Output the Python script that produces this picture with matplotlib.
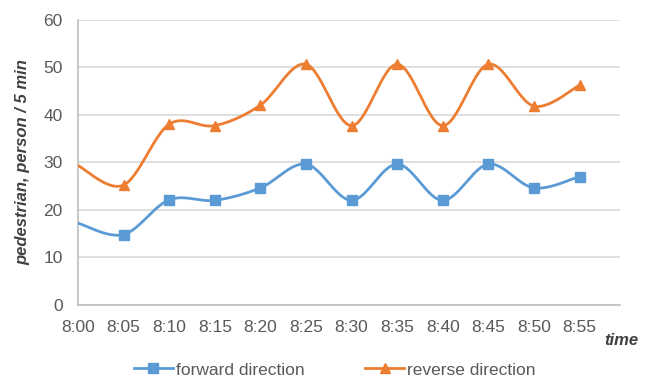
import numpy as np
import matplotlib.pyplot as plt

times = ['8:00', '8:05', '8:10', '8:15', '8:20', '8:25',
         '8:30', '8:35', '8:40', '8:45', '8:50', '8:55']
forward = [17.2, 14.8, 22.1, 22.0, 24.6, 29.6, 22.0, 29.6, 22.0, 29.6, 24.6, 27.0]
reverse = [29.3, 25.2, 38.0, 37.7, 42.0, 50.6, 37.7, 50.6, 37.7, 50.6, 41.8, 46.2]

BLUE = '#5B9BD5'
ORANGE = '#ED7D31'
GREY = '#595959'

plt.rcParams['font.family'] = ['Liberation Sans', 'DejaVu Sans']


def smooth(x, y, n=30):
    # Catmull-Rom style smoothing, similar to a spreadsheet "smoothed line"
    x = np.asarray(x, float)
    y = np.asarray(y, float)
    px = np.concatenate([[x[0]], x, [x[-1]]])
    py = np.concatenate([[y[0]], y, [y[-1]]])
    xs, ys = [], []
    t = np.linspace(0, 1, n)
    for i in range(1, len(px) - 2):
        p0, p1, p2, p3 = (np.array([px[j], py[j]]) for j in range(i - 1, i + 3))
        c1 = p1 + (p2 - p0) / 6
        c2 = p2 - (p3 - p1) / 6
        b = ((1 - t) ** 3)[:, None] * p1 + (3 * (1 - t) ** 2 * t)[:, None] * c1 \
            + (3 * (1 - t) * t ** 2)[:, None] * c2 + (t ** 3)[:, None] * p2
        xs.append(b[:, 0])
        ys.append(b[:, 1])
    return np.concatenate(xs), np.concatenate(ys)


fig = plt.figure(figsize=(6.53, 3.83), dpi=100)
ax = fig.add_axes([0.1194, 0.2037, 0.8296, 0.7453])

x = np.arange(len(times))
for vals, color, marker, label in [(forward, BLUE, 's', 'forward direction'),
                                   (reverse, ORANGE, '^', 'reverse direction')]:
    sx, sy = smooth(x, vals)
    ax.plot(sx, sy, color=color, lw=2, zorder=3)
    ax.plot(x[1:], vals[1:], linestyle='none', marker=marker, color=color,
            markersize=7, zorder=4)
    ax.plot([], [], color=color, lw=2, marker=marker, markersize=7, label=label)

ax.set_xlim(0, 11.88)
ax.set_ylim(0, 60)
ax.set_yticks(range(0, 61, 10))
ax.set_xticks(x)
ax.set_xticklabels(times)
ax.grid(axis='y', color='#D9D9D9', lw=1.2)
ax.set_axisbelow(True)
for s in ['top', 'right']:
    ax.spines[s].set_visible(False)
for s in ['left', 'bottom']:
    ax.spines[s].set_color('#BFBFBF')
    ax.spines[s].set_linewidth(1.2)
ax.tick_params(length=0, labelsize=12.5, colors=GREY)
ax.tick_params(axis='y', pad=11)
ax.tick_params(axis='x', pad=11)

ax.set_ylabel('pedestrian, person / 5 min', fontsize=12, style='italic',
              fontweight='bold', color='#404040', labelpad=9)
fig.text(0.925, 0.11, 'time', fontsize=12, style='italic', fontweight='bold',
         color='#404040', ha='left', va='center')

fig.legend(loc='center', bbox_to_anchor=(0.513, 0.034), ncol=2, frameon=False,
           fontsize=12.5, labelcolor=GREY, handlelength=2.2, columnspacing=3.5,
           handletextpad=0.2)

fig.savefig('out.png', dpi=100)
